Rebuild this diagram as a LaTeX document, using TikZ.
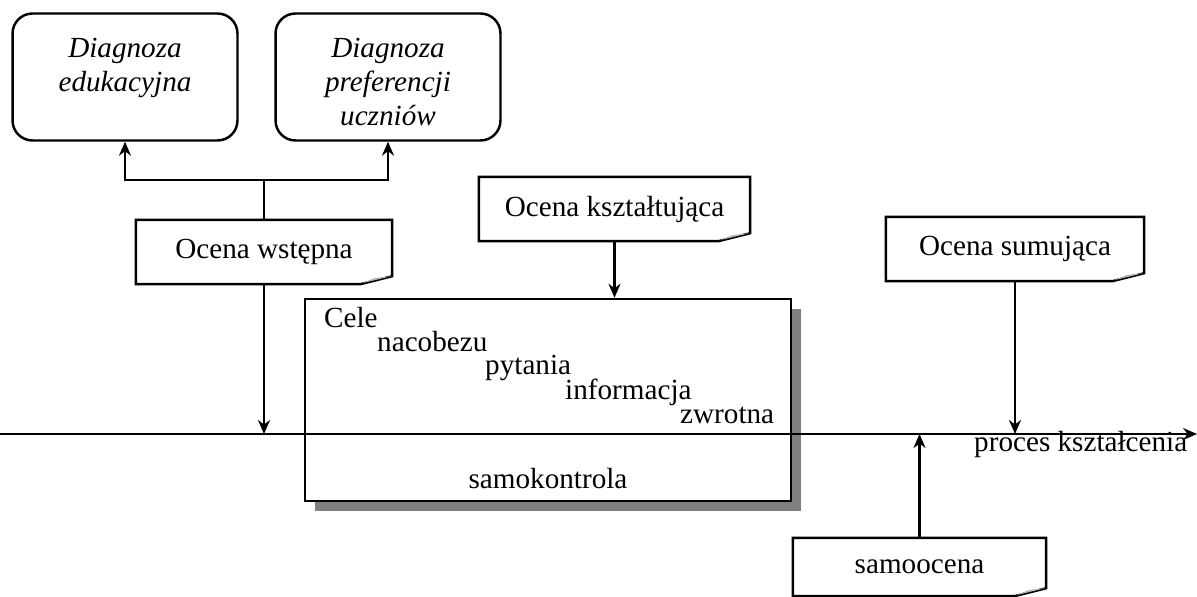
\documentclass[tikz,border=0pt]{standalone}
\usepackage{fontspec}
\setmainfont{Liberation Serif}
\usetikzlibrary{arrows.meta,calc,shadows}

\begin{document}
\begin{tikzpicture}[x=0.02cm, y=-0.02cm, line width=1.4pt,
    every node/.style={font=\fontsize{16.6}{19.3}\selectfont},
    kursywa/.style={font=\itshape\fontsize{16.6}{19.3}\selectfont},
    diag/.style={draw, rounded corners=0.4cm, minimum width=4.5cm, minimum height=2.54cm},
    notka/.style={minimum height=1.24cm},
    tekst/.style={anchor=base west, inner sep=0pt},
    strz/.style={-{Stealth[length=0.28cm,width=0.24cm]}}]
    \useasboundingbox (0,0) rectangle (1197,597);
    % diagnozy u gory
    \node[diag] (diag1) at (125,77) {};
    \node[diag] (diag2) at (388,77) {};
    \node[kursywa, anchor=north, align=center, inner sep=0pt] (opis1) at ($(diag1.north)+(0,25)$) {Diagnoza\\edukacyjna};
    \node[kursywa, anchor=north, align=center, inner sep=0pt] (opis2) at ($(diag2.north)+(0,25)$) {Diagnoza\\preferencji\\uczniów};
    % notatki
    \node[notka, minimum width=5.08cm] (wst) at (264,252) {Ocena wstępna};
    \node[notka, minimum width=5.38cm] (ksz) at (614.5,209) {Ocena kształtująca};
    \node[notka, minimum width=5.12cm] (sum) at (1015,249) {Ocena sumująca};
    \node[notka, minimum width=5.02cm, minimum height=1.12cm] (samo) at (919.5,567) {samoocena};
    \foreach \n in {wst,ksz,sum,samo}{
        \draw (\n.south west) -- ($(\n.south east)+(-32,0)$) -- ($(\n.south east)+(0,-8)$) -- (\n.north east) -- (\n.north west) -- cycle;
        \fill[gray!60] ($(\n.south east)+(-30,-1)$) -- ($(\n.south east)+(-18,-6)$) -- ($(\n.south east)+(-1,-8)$) -- cycle;
    }
    % pole z celami
    \node[draw, fill=white, minimum width=9.72cm, minimum height=4.04cm,
          drop shadow={shadow xshift=0.2cm, shadow yshift=-0.2cm, fill=gray, opacity=1}] (pole) at (548,400) {};
    \foreach \x/\y/\t/\nazwa in {323/328/Cele/cele, 376/352/nacobezu/nacob, 484/375/pytania/pyt, 564/400/informacja/info, 679/424/zwrotna/zwrot}{
        \node[tekst] (\nazwa) at (\x,\y) {\t};
    }
    \node[anchor=base, inner sep=0pt] (samok) at (548,489) {samokontrola};
    % os procesu
    \coordinate (start) at (0,434);
    \coordinate (koniec) at (1197,434);
    \draw[strz] (start) -- (koniec);
    \node[tekst] (proces) at (973,452) {proces kształcenia};
    % strzalki
    \coordinate (rozg) at (264,180);
    \draw (wst.north) -- (rozg);
    \draw[strz] (rozg) -| (diag1.south);
    \draw[strz] (rozg) -| (diag2.south);
    \draw[strz] (wst.south) -- (wst.south |- start);
    \draw[strz] (ksz.south) -- (ksz.south |- pole.north);
    \draw[strz] (sum.south) -- (sum.south |- start);
    \draw[strz] (samo.north) -- (samo.north |- start);
\end{tikzpicture}
\end{document}
